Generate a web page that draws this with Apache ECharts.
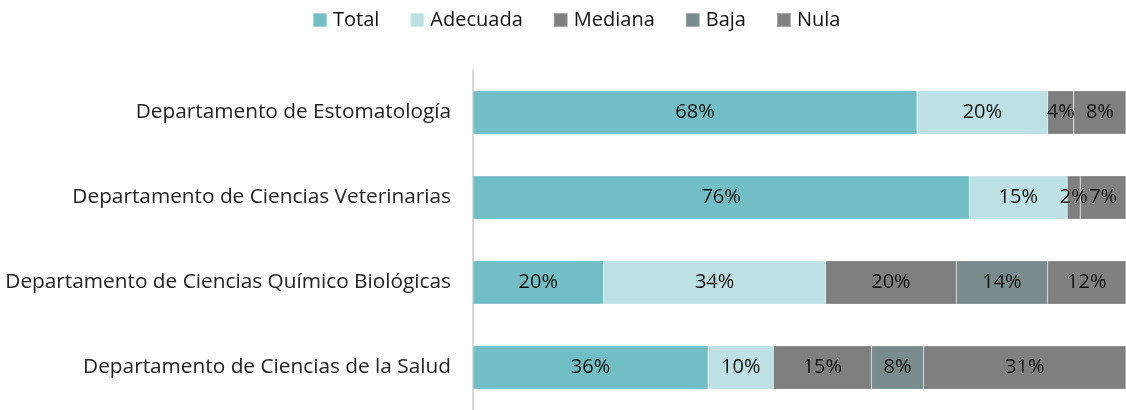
<!DOCTYPE html>
<html lang="es">
<head>
<meta charset="UTF-8">
<title>Departamentos</title>
<script src="https://cdn.jsdelivr.net/npm/echarts@6/dist/echarts.min.js"></script>
<style>
  html, body { margin: 0; padding: 0; background: #fff; }
  #chart { width: 1126px; height: 410px; }
</style>
</head>
<body>
<div id="chart"></div>
<script>
// datos (porcentajes)
var departamentos = [
    'Departamento de Ciencias de la Salud',
    'Departamento de Ciencias Químico Biológicas',
    'Departamento de Ciencias Veterinarias',
    'Departamento de Estomatología'
];
var total    = [36, 20, 76, 68];
var adecuada = [10, 34, 15, 20];
var mediana  = [15, 20, 2, 4];
var baja     = [8, 14, 0, 0];
var nula     = [31, 12, 7, 8];

var colores = ['#71bec5', '#bde1e4', '#7f7f7f', '#798b8d', '#808080'];

var chart = echarts.init(document.getElementById('chart'));

function serie(nombre, datos) {
    return {
        name: nombre,
        type: 'bar',
        stack: 'total',
        data: datos,
        barCategoryGap: '49%',
        itemStyle: { borderColor: 'rgba(255,255,255,0.35)', borderWidth: 0.5 },
        label: {
            show: true,
            position: 'inside',
            color: '#111',
            fontFamily: 'Open Sans',
            fontSize: 20,
            formatter: function (p) { return p.value > 0 ? p.value + '%' : ''; }
        }
    };
}

chart.setOption({
    color: colores,
    animation: false,
    textStyle: { fontFamily: 'Open Sans' },
    legend: {
        top: 5,
        left: 307,
        itemWidth: 14,
        itemHeight: 14,
        itemGap: 30,
        icon: 'rect',
        textStyle: { fontSize: 20, color: '#111', padding: [0, 0, 0, 1] },
        data: ['Total', 'Adecuada', 'Mediana', 'Baja', 'Nula']
    },
    grid: { left: 473, right: 0, top: 70, bottom: 0 },
    xAxis: {
        type: 'value',
        min: 0,
        max: 100,
        show: false
    },
    yAxis: {
        type: 'category',
        data: departamentos,
        axisLine: { show: true, lineStyle: { color: '#d9d9d9', width: 2 } },
        axisTick: { show: false },
        axisLabel: { color: '#222', fontSize: 20.8, margin: 22 }
    },
    series: [
        serie('Total', total),
        serie('Adecuada', adecuada),
        serie('Mediana', mediana),
        serie('Baja', baja),
        serie('Nula', nula)
    ]
});
</script>
</body>
</html>
